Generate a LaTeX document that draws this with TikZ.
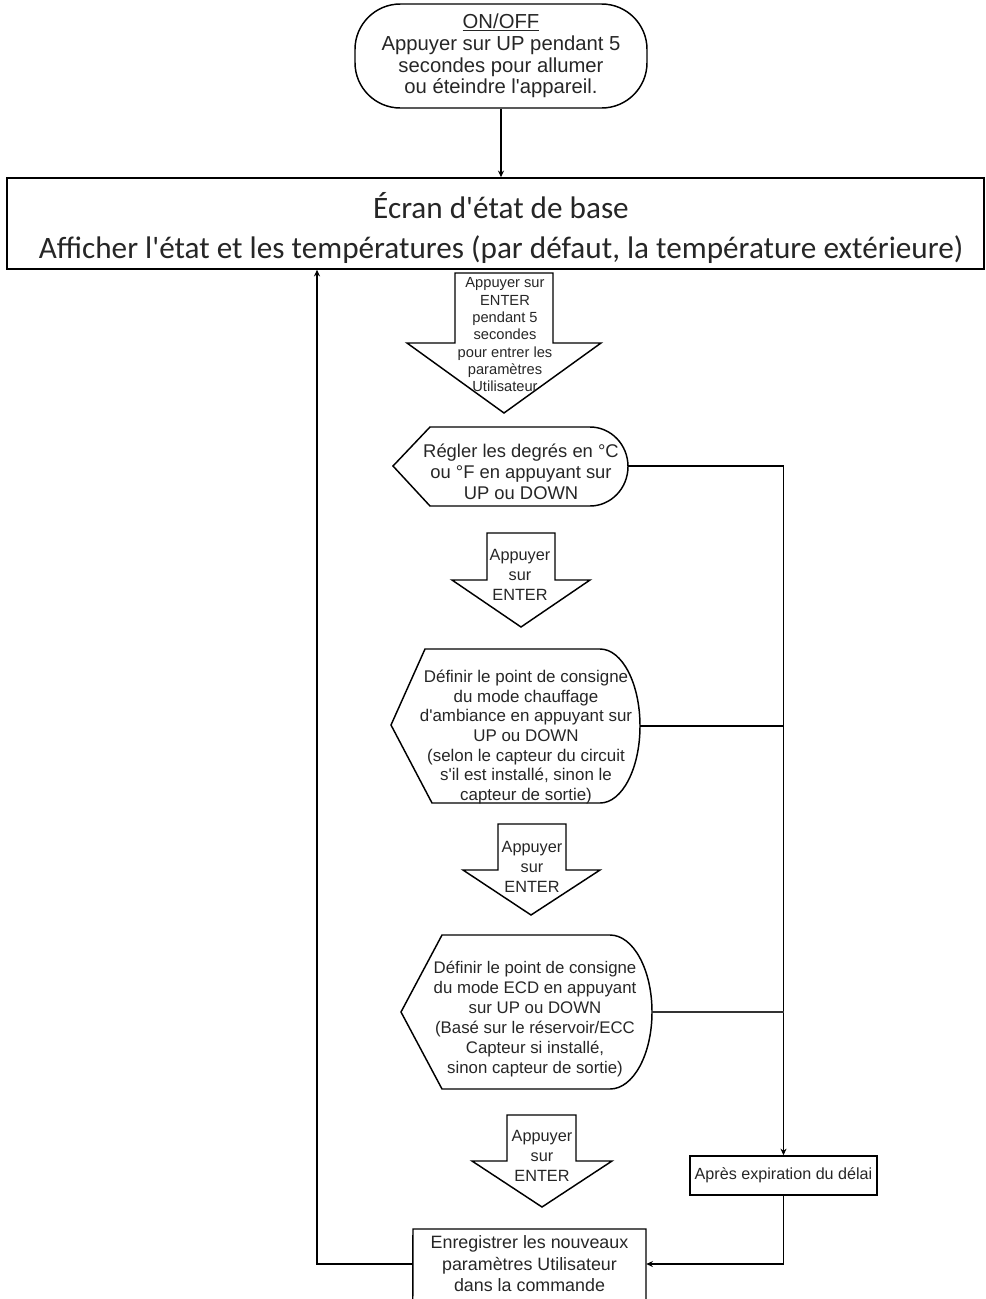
\documentclass[tikz,border=0pt]{standalone}
\usepackage{fontspec}
\setmainfont{Liberation Sans}
\newfontfamily\calib{Carlito}
\usetikzlibrary{arrows.meta}
\newcommand\aq{\textquotesingle}
\begin{document}
\begin{tikzpicture}[x=0.75pt,y=0.75pt,
  shp/.style={line width=1.1pt, line join=miter},
  conn/.style={line width=1.1pt},
  arr/.style={conn,-{Stealth[length=5pt,width=4.5pt]}},
  txt/.style={inner sep=0pt, align=center, text=black!85}]
\useasboundingbox (0,0) rectangle (985,-1299);
\clip (0,0) rectangle (985,-1299);

% top stadium
\node[shp, draw, rounded corners=34pt, minimum width=219pt, minimum height=78pt, inner sep=0pt,
      align=center, text=black!85, font=\fontsize{15.2pt}{16.3pt}\selectfont] (onoff) at (501,-56)
  {\underline{ON/OFF}\\Appuyer sur UP pendant 5\\secondes pour allumer\\ou éteindre l\aq appareil.};

% main box
\node[shp, draw, minimum width=732.75pt, minimum height=68.25pt, inner sep=0pt] (main) at (495.5,-223.5) {};
\node[txt, font=\calib\fontsize{23.4pt}{30pt}\selectfont] (maintext) at (501,-228)
  {Écran d\aq état de base\\Afficher l\aq état et les températures (par défaut, la température extérieure)};

% block arrow 1
\draw[shp] (455,-273) -- (553,-273) -- (553,-343) -- (601,-343) -- (504,-413) -- (407,-343) -- (455,-343) -- cycle;
\node[txt, font=\fontsize{11pt}{13pt}\selectfont] (a1) at (505,-335)
  {Appuyer sur\\ENTER\\pendant 5\\secondes\\pour entrer les\\paramètres\\Utilisateur};

% display 1
\draw[shp] (393,-466) -- (430,-427) -- (590,-427) arc[start angle=90, end angle=-90, x radius=38, y radius=39.5] -- (430,-506) -- cycle;
\node[txt, font=\fontsize{13.8pt}{15.75pt}\selectfont] (d1) at (521,-472)
  {Régler les degrés en °C\\ou °F en appuyant sur\\UP ou DOWN};
\coordinate (d1r) at (628,-466);

% block arrow 2
\draw[shp] (487,-533) -- (555,-533) -- (555,-580) -- (590,-580) -- (521,-627) -- (452,-580) -- (487,-580) -- cycle;
\node[txt, font=\fontsize{12.2pt}{15pt}\selectfont] (a2) at (520,-575)
  {Appuyer\\sur\\ENTER};

% display 2
\draw[shp] (391,-725) -- (425,-649) -- (600,-649) arc[start angle=90, end angle=-90, x radius=40, y radius=77] -- (432,-803) -- cycle;
\node[txt, font=\fontsize{12.7pt}{14.8pt}\selectfont] (d2) at (526,-737)
  {Définir le point de consigne\\du mode chauffage\\d\aq ambiance en appuyant sur\\UP ou DOWN\\(selon le capteur du circuit\\s\aq il est installé, sinon le\\capteur de sortie)};
\coordinate (d2r) at (640,-726);

% block arrow 3
\draw[shp] (498,-824) -- (566,-824) -- (566,-870) -- (600,-870) -- (531,-915) -- (463,-870) -- (498,-870) -- cycle;
\node[txt, font=\fontsize{12.2pt}{15pt}\selectfont] (a3) at (532,-867)
  {Appuyer\\sur\\ENTER};

% display 3
\draw[shp] (401,-1012) -- (442,-935) -- (610,-935) arc[start angle=90, end angle=-90, x radius=42, y radius=77] -- (442,-1089) -- cycle;
\node[txt, font=\fontsize{12.6pt}{15pt}\selectfont] (d3) at (535,-1019)
  {Définir le point de consigne\\du mode ECD en appuyant\\sur UP ou DOWN\\(Basé sur le réservoir/ECC\\Capteur si installé,\\sinon capteur de sortie)};
\coordinate (d3r) at (652,-1012);

% block arrow 4
\draw[shp] (507,-1115) -- (576,-1115) -- (576,-1161) -- (612,-1161) -- (542,-1207) -- (472,-1161) -- (507,-1161) -- cycle;
\node[txt, font=\fontsize{12.2pt}{15pt}\selectfont] (a4) at (542,-1156)
  {Appuyer\\sur\\ENTER};

% timeout box
\node[shp, draw, minimum width=140.25pt, minimum height=29.25pt, inner sep=0pt, text=black!85,
      font=\fontsize{12.1pt}{14pt}\selectfont] (apres) at (783.5,-1175.5) {Après expiration du délai};

% save box (open at bottom, cut by page edge)
\node[txt, minimum width=174.75pt, minimum height=52.5pt, font=\fontsize{13.4pt}{16.1pt}\selectfont] (save) at (529.5,-1264)
  {Enregistrer les nouveaux\\paramètres Utilisateur\\dans la commande};
\draw[shp] (save.west) ++(0,-40) -- (413,-1229) -- (646,-1229) -- (646,-1310);

\coordinate (ret) at (317,-1264);

% connectors
\draw[arr] (onoff.south) -- (onoff.south |- main.north);
\draw[arr] (d1r) -| (apres.north);
\draw[conn] (d2r) -- (d2r -| apres.north);
\draw[conn, line width=0.8pt, black!80] (d3r) -- (d3r -| apres.north);
\draw[arr] (apres.south) |- (save.east);
\draw[arr] (save.west) -- (ret) -- (ret |- main.south);
\end{tikzpicture}
\end{document}
